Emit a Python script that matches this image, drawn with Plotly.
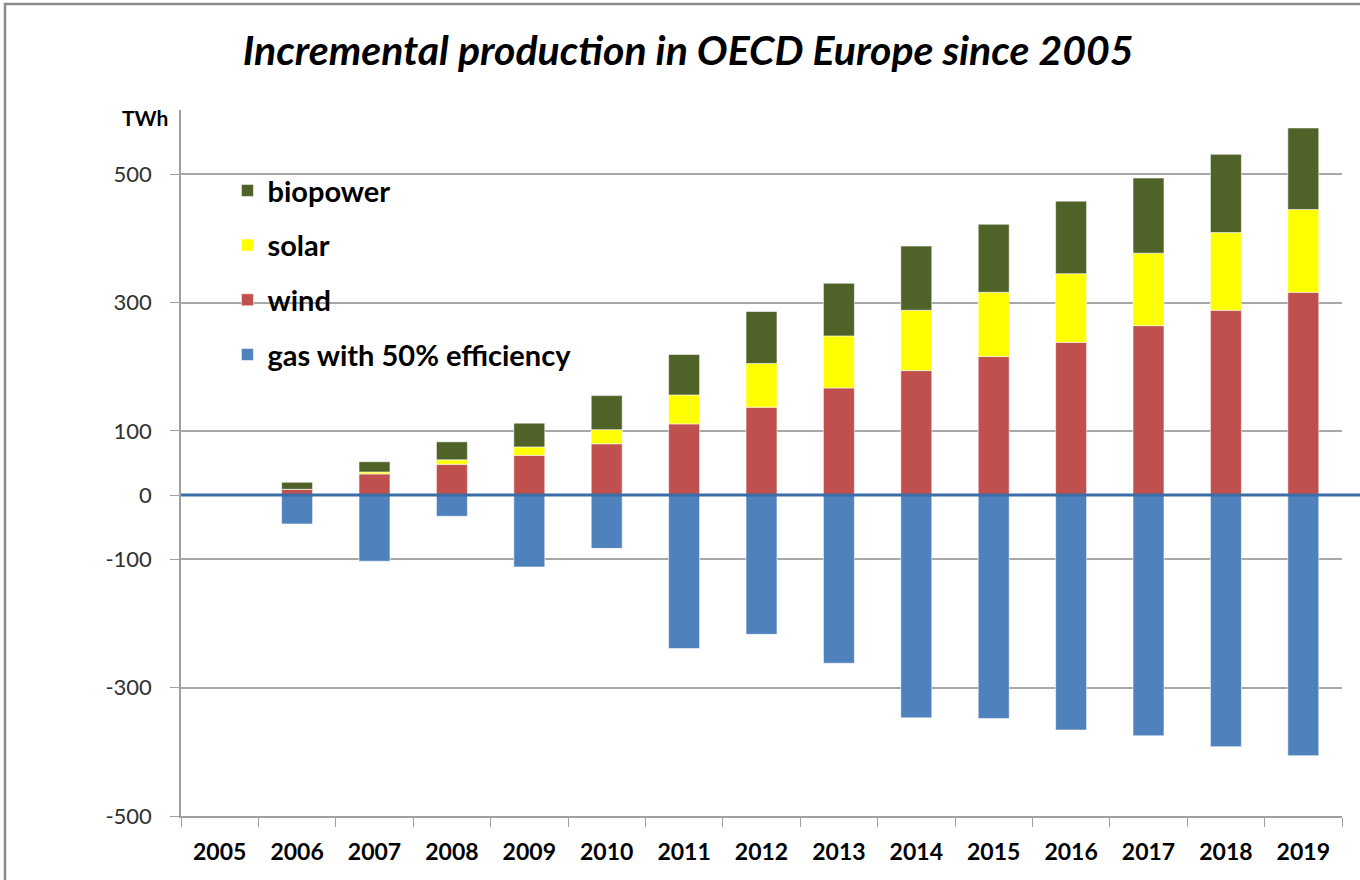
import plotly.graph_objects as go

# Incremental production vs 2005 (TWh)
years = [str(y) for y in range(2005, 2020)]
wind = [0, 9, 33, 48, 62, 80, 111, 137, 167, 194, 216, 238, 264, 288, 316]
solar = [0, 0, 3, 7, 13, 22, 45, 68, 81, 94, 100, 107, 113, 121, 129]
biopower = [0, 11, 16, 28, 37, 53, 63, 81, 82, 100, 106, 113, 117, 122, 127]
gas = [0, -45, -103, -33, -112, -83, -239, -217, -262, -347, -348, -366, -375, -392, -406]

y_ticks = [-500, -300, -100, 0, 100, 300, 500]
y_ticktext = ["-500", "-300", "-100", "0", "100", "300", "500"]

FONT = "Lato"
bar_line = dict(color="rgba(255,255,255,0.55)", width=1)

fig = go.Figure()
fig.add_trace(go.Bar(x=years, y=gas, name="gas with 50% efficiency", legendrank=4,
                     marker=dict(color="#4F81BD", line=bar_line), legendgroup="gas"))
fig.add_trace(go.Bar(x=years, y=wind, name="wind", legendrank=3,
                     marker=dict(color="#C0504D", line=bar_line), legendgroup="wind"))
fig.add_trace(go.Bar(x=years, y=solar, name="solar", legendrank=2,
                     marker=dict(color="#FFFF00", line=bar_line), legendgroup="solar"))
fig.add_trace(go.Bar(x=years, y=biopower, name="biopower", legendrank=1,
                     marker=dict(color="#4F6228", line=bar_line), legendgroup="bio"))

fig.update_layout(
    width=1360, height=880,
    margin=dict(l=181, r=18, t=110, b=64),
    paper_bgcolor="white", plot_bgcolor="white",
    barmode="relative", bargap=0.6,
    font=dict(family=FONT, color="#000000"),
    title=dict(text="<b><i>Incremental production in OECD Europe since 2005</i></b>",
               x=0.506, xanchor="center", y=0.943, yanchor="middle",
               font=dict(size=41, family=FONT, color="#000000")),
    legend=dict(x=0.04, y=0.922, xanchor="left", yanchor="top",
                traceorder="grouped", tracegroupgap=14,
                font=dict(size=29, family=FONT, color="#000000", weight="bold"),
                bgcolor="rgba(0,0,0,0)", itemclick=False),
    showlegend=True,
)

fig.update_xaxes(
    type="category", showline=True, linecolor="#A0A0A0", linewidth=1.5,
    ticks="outside", tickson="boundaries", ticklen=9, tickcolor="#A0A0A0",
    tickfont=dict(size=23, family=FONT, color="#000000", weight="bold"),
    ticklabelstandoff=15, showgrid=False,
)
fig.update_yaxes(
    range=[-500, 600], tickvals=y_ticks, ticktext=y_ticktext,
    showline=True, linecolor="#A0A0A0",
    linewidth=1.5, ticks="outside", ticklen=9, tickcolor="#A0A0A0",
    gridcolor="#A8A8A8", gridwidth=1.5, zeroline=False,
    tickfont=dict(size=22, family=FONT, color="#303030"),
    ticklabelstandoff=14,
)

# zero line running past the plot area, as in the original
fig.add_shape(type="line", xref="paper", yref="y", x0=0, x1=1.02, y0=0, y1=0,
              line=dict(color="#3A6EA8", width=3))
# outer chart frame
fig.add_shape(type="rect", xref="paper", yref="paper",
              x0=-0.1516, x1=1.03, y0=-0.2, y1=1.150,
              line=dict(color="#8C8C8C", width=2.5), layer="above")

fig.add_annotation(text="<b>TWh</b>", xref="paper", yref="paper",
                   x=-0.0095, y=0.99, xanchor="right", yanchor="middle",
                   showarrow=False, font=dict(size=21, family=FONT, color="#000000"))

fig.write_html("out.html", config={"displayModeBar": False},
               post_script="document.body.style.margin='0';")
